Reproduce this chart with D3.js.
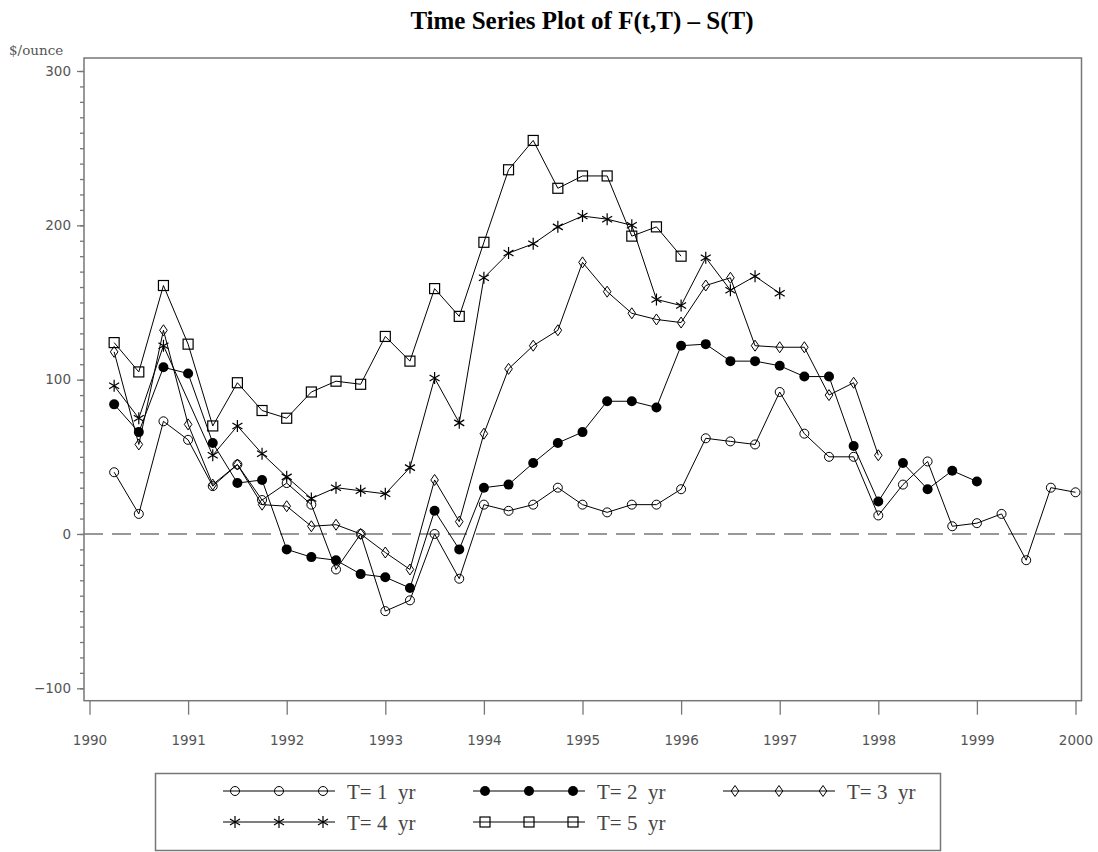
<!DOCTYPE html>
<html>
<head>
<meta charset="utf-8">
<script src="https://cdn.jsdelivr.net/npm/d3@7/dist/d3.min.js"></script>
<style>
body { margin: 0; background: #fff; }
</style>
</head>
<body>
<svg id="chart" width="1098" height="852"></svg>
<script>
// quarterly dates
var dates = [1990.25, 1990.5, 1990.75, 1991.0, 1991.25, 1991.5, 1991.75, 1992.0,
    1992.25, 1992.5, 1992.75, 1993.0, 1993.25, 1993.5, 1993.75, 1994.0,
    1994.25, 1994.5, 1994.75, 1995.0, 1995.25, 1995.5, 1995.75, 1996.0,
    1996.25, 1996.5, 1996.75, 1997.0, 1997.25, 1997.5, 1997.75, 1998.0,
    1998.25, 1998.5, 1998.75, 1999.0, 1999.25, 1999.5, 1999.75, 2000.0];

// F(t,T) - S(T), $/ounce
var t1 = [40, 13, 73, 61, 31, 45, 22, 33, 19, -23, 0, -50, -43, 0, -29, 19, 15, 19, 30, 19,
    14, 19, 19, 29, 62, 60, 58, 92, 65, 50, 50, 12, 32, 47, 5, 7, 13, -17, 30, 27];
var t2 = [84, 66, 108, 104, 59, 33, 35, -10, -15, -17, -26, -28, -35, 15, -10, 30, 32, 46, 59, 66,
    86, 86, 82, 122, 123, 112, 112, 109, 102, 102, 57, 21, 46, 29, 41, 34];
var t3 = [118, 58, 132, 71, 32, 45, 19, 18, 5, 6, 0, -12, -23, 35, 8, 65, 107, 122, 132, 176,
    157, 143, 139, 137, 161, 166, 122, 121, 121, 90, 98, 51];
var t4 = [96, 75, 122, null, 51, 70, 52, 37, 23, 30, 28, 26, 43, 101, 72, 166, 182, 188, 199, 206,
    204, 200, 152, 148, 179, 158, 167, 156];
var t5 = [124, 105, 161, 123, 70, 98, 80, 75, 92, 99, 97, 128, 112, 159, 141, 189, 236, 255, 224, 232,
    232, 193, 199, 180];

var yearTicks = [1990, 1991, 1992, 1993, 1994, 1995, 1996, 1997, 1998, 1999, 2000];
var valueTicks = [-100, 0, 100, 200, 300];
var seriesLabels = ["T= 1  yr", "T= 2  yr", "T= 3  yr", "T= 4  yr", "T= 5  yr"];
var seriesMarks = ["circle", "dot", "diamond", "star", "square"];

var svg = d3.select("#chart");
var axisColor = "#777";

var x = d3.scaleLinear().domain([1990, 2000]).range([89.5, 1075.5]);
var y = d3.scaleLinear().domain([-100, 300]).range([688.3, 71]);

var frameL = 84, frameR = 1081.5, frameT = 58, frameB = 700.7;

// title
svg.append("text")
    .attr("x", 582).attr("y", 29)
    .attr("text-anchor", "middle")
    .style("font-family", "'Liberation Serif', 'Times New Roman', serif")
    .style("font-weight", "bold")
    .style("font-size", "25px")
    .text("Time Series Plot of F(t,T) \u2013 S(T)");

svg.append("text")
    .attr("x", 9).attr("y", 55)
    .style("font-family", "'DejaVu Serif', serif")
    .style("font-size", "13.5px")
    .style("fill", "#555")
    .text("$/ounce");

// frame
svg.append("rect")
    .attr("x", frameL).attr("y", frameT)
    .attr("width", frameR - frameL).attr("height", frameB - frameT)
    .attr("fill", "none").attr("stroke", axisColor).attr("stroke-width", 1.5);

// y axis minor + major
var minor = [];
for (var v = -100; v <= 300; v += 10) minor.push(v);
var gMinor = svg.append("g").attr("transform", "translate(" + frameL + ",0)")
    .call(d3.axisLeft(y).tickValues(minor).tickSize(4).tickFormat(""));
var gY = svg.append("g").attr("transform", "translate(" + frameL + ",0)")
    .call(d3.axisLeft(y).tickValues(valueTicks).tickSize(7).tickPadding(6)
        .tickFormat(function (d) { return d < 0 ? "\u2212" + Math.abs(d) : d; }));

var gX = svg.append("g").attr("transform", "translate(0," + frameB + ")")
    .call(d3.axisBottom(x).tickValues(yearTicks).tickSize(14).tickPadding(21).tickFormat(d3.format("d")));

[gMinor, gY, gX].forEach(function (g) {
    g.select(".domain").remove();
    g.selectAll("line").attr("stroke", axisColor).attr("stroke-width", 1.3);
    g.selectAll("text")
        .style("font-family", "'DejaVu Sans', sans-serif")
        .style("font-size", "13.5px")
        .style("fill", "#555");
});

// zero reference
svg.append("line")
    .attr("x1", frameL).attr("x2", frameR)
    .attr("y1", y(0)).attr("y2", y(0))
    .attr("stroke", axisColor).attr("stroke-width", 1.5)
    .attr("stroke-dasharray", "19,9");

function drawMark(g, kind, cx, cy) {
    if (kind == "circle") {
        g.append("circle").attr("cx", cx).attr("cy", cy).attr("r", 4.5)
            .attr("fill", "none").attr("stroke", "#000").attr("stroke-width", 1);
    } else if (kind == "dot") {
        g.append("circle").attr("cx", cx).attr("cy", cy).attr("r", 5)
            .attr("fill", "#000");
    } else if (kind == "diamond") {
        g.append("path")
            .attr("d", "M" + cx + "," + (cy - 5.5) + "L" + (cx + 3.8) + "," + cy +
                "L" + cx + "," + (cy + 5.5) + "L" + (cx - 3.8) + "," + cy + "Z")
            .attr("fill", "none").attr("stroke", "#000").attr("stroke-width", 1);
    } else if (kind == "star") {
        g.append("path")
            .attr("d", "M" + cx + "," + (cy - 6) + "L" + cx + "," + (cy + 6) +
                "M" + (cx - 5) + "," + (cy - 3) + "L" + (cx + 5) + "," + (cy + 3) +
                "M" + (cx - 5) + "," + (cy + 3) + "L" + (cx + 5) + "," + (cy - 3))
            .attr("fill", "none").attr("stroke", "#000").attr("stroke-width", 1.2);
    } else if (kind == "square") {
        g.append("rect").attr("x", cx - 5).attr("y", cy - 5)
            .attr("width", 10).attr("height", 10)
            .attr("fill", "none").attr("stroke", "#000").attr("stroke-width", 1.2);
    }
}

var allSeries = [t1, t2, t3, t4, t5];
var line = d3.line().x(function (d) { return x(d.t); }).y(function (d) { return y(d.v); });

allSeries.forEach(function (vals, si) {
    var pts = [];
    vals.forEach(function (v, i) {
        if (v !== null) pts.push({ t: dates[i], v: v });
    });
    var g = svg.append("g");
    g.append("path").datum(pts).attr("d", line)
        .attr("fill", "none").attr("stroke", "#000").attr("stroke-width", 1);
    pts.forEach(function (p) {
        drawMark(g, seriesMarks[si], x(p.t), y(p.v));
    });
});

// legend
var lg = svg.append("g");
lg.append("rect").attr("x", 155.5).attr("y", 773.5).attr("width", 785).attr("height", 77)
    .attr("fill", "none").attr("stroke", axisColor).attr("stroke-width", 1.5);
var colX = [223, 473, 723];
var rowY = [791, 822];
seriesLabels.forEach(function (lab, i) {
    var cx0 = colX[i % 3], cy0 = rowY[Math.floor(i / 3)];
    lg.append("line").attr("x1", cx0).attr("x2", cx0 + 112)
        .attr("y1", cy0).attr("y2", cy0)
        .attr("stroke", "#000").attr("stroke-width", 1.2);
    [12, 56, 100].forEach(function (dx) {
        drawMark(lg, seriesMarks[i], cx0 + dx, cy0);
    });
    lg.append("text").attr("x", cx0 + 124).attr("y", cy0 + 8)
        .style("font-family", "'Liberation Serif', 'Times New Roman', serif")
        .style("font-size", "21px")
        .style("fill", "#444")
        .attr("xml:space", "preserve")
        .style("white-space", "pre")
        .text(lab);
});
</script>
</body>
</html>
